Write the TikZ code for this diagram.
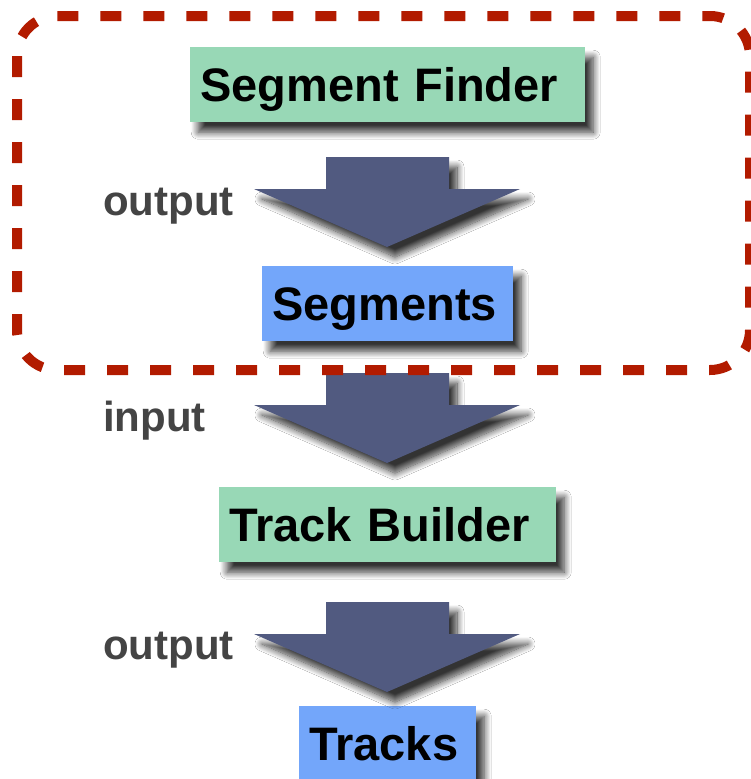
\documentclass[tikz,border=0pt]{standalone}
\usepackage{fontspec}
\setmainfont{Liberation Sans}
\usetikzlibrary{shadows.blur}
\definecolor{boxgreen}{RGB}{152,216,182}
\definecolor{boxblue}{RGB}{115,166,250}
\definecolor{arrowblue}{RGB}{81,90,128}
\definecolor{dashred}{RGB}{178,27,0}
\definecolor{labelgray}{RGB}{68,68,68}
\begin{document}
\begin{tikzpicture}[x=1pt,y=-1pt,
  myshadow/.style={blur shadow={shadow xshift=8pt, shadow yshift=-10pt, shadow blur radius=7pt, shadow blur steps=12, shadow opacity=80}},
  boxbase/.style={anchor=north west, inner xsep=10pt, inner ysep=0pt, align=left,
    font=\fontsize{47}{50}\selectfont\bfseries, text height=33.7pt, text depth=0pt,
    minimum height=75pt, myshadow},
  greenbox/.style={boxbase, fill=boxgreen},
  bluebox/.style={boxbase, fill=boxblue},
  sidelabel/.style={anchor=base west, inner sep=0pt, text=labelgray,
    font=\fontsize{42}{45}\selectfont\bfseries},
  blockarrow/.style={fill=arrowblue, myshadow},
  dashframe/.style={draw=dashred, line width=10pt, dash pattern=on 21pt off 22pt, rounded corners=40pt}]
\useasboundingbox (0,0) rectangle (750,779);
\fill[white] (0,0) rectangle (750,779);

\node[greenbox, text width=375pt] (finder) at (190,47) {Segment Finder};
\node[bluebox, text width=231pt] (segments) at (262,266) {Segments};
\node[greenbox, text width=317pt] (builder) at (219,487) {Track Builder};
\node[bluebox, text width=157pt] (tracks) at (299,706) {Tracks};

\path[blockarrow] (326,157) -- (449,157) -- (449,189) -- (520,189) -- (387,247) -- (254,189) -- (326,189) -- cycle;
\path[blockarrow] (326,373) -- (449,373) -- (449,405) -- (520,405) -- (387,463) -- (254,405) -- (326,405) -- cycle;
\path[blockarrow] (326,602) -- (449,602) -- (449,634) -- (520,634) -- (387,692) -- (254,634) -- (326,634) -- cycle;

\node[sidelabel] (out1) at (103,215) {output};
\node[sidelabel] (in2) at (103,431) {input};
\node[sidelabel] (out3) at (103,659) {output};

\path[dashframe] (17,16) rectangle (750,370);
\end{tikzpicture}
\end{document}
